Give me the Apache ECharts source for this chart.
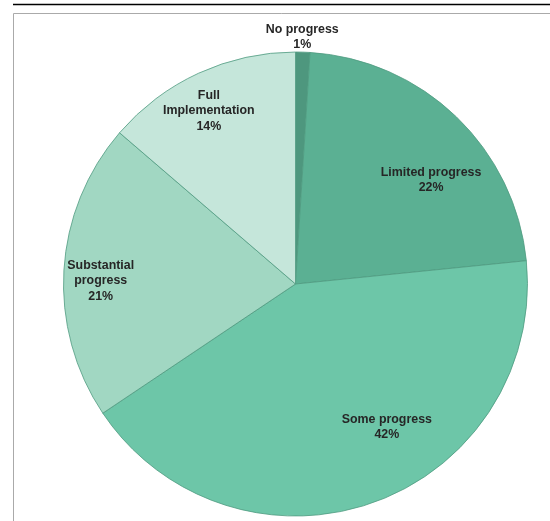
<!DOCTYPE html>
<html>
<head>
<meta charset="utf-8">
<script src="https://cdn.jsdelivr.net/npm/echarts@6/dist/echarts.min.js"></script>
<style>
html,body{margin:0;padding:0;background:#fff;}
#chart{width:550px;height:521px;}
</style>
</head>
<body>
<div id="chart"></div>
<script>
// Data
const categories = ['No progress', 'Limited progress', 'Some progress', 'Substantial progress', 'Full Implementation'];
const displayNames = ['No progress', 'Limited progress', 'Some progress', 'Substantial\nprogress', 'Full\nImplementation'];
const values = [1, 22.4, 42.2, 20.7, 13.7];
const colors = ['#4e977e', '#5bb093', '#6dc6a8', '#a1d7c2', '#c5e6da'];
const labelOffsets = [[3, -128], [53, -18], [51, 31], [-76, 4], [-37, -65]];

const chart = echarts.init(document.getElementById('chart'), null, {renderer: 'canvas'});
chart.setOption({
  animation: false,
  backgroundColor: '#fff',
  graphic: [
    {type: 'line', shape: {x1: 13, y1: 4.5, x2: 550, y2: 4.5}, style: {stroke: '#000', lineWidth: 1.3}},
    {type: 'line', shape: {x1: 13.5, y1: 13.5, x2: 550, y2: 13.5}, style: {stroke: '#aaa', lineWidth: 1}},
    {type: 'line', shape: {x1: 13.5, y1: 13.5, x2: 13.5, y2: 521}, style: {stroke: '#aaa', lineWidth: 1}}
  ],
  series: [{
    type: 'pie',
    center: [295.5, 284],
    radius: [0, 232],
    startAngle: 90,
    clockwise: true,
    avoidLabelOverlap: false,
    itemStyle: {borderColor: '#4f9a80', borderWidth: 0.8},
    emphasis: {disabled: true},
    labelLine: {show: false},
    label: {
      show: true,
      position: 'inside',
      fontFamily: 'Liberation Sans, Arial, sans-serif',
      fontWeight: 'bold',
      fontSize: 12.4,
      lineHeight: 15.5,
      color: '#262626',
      align: 'center',
      formatter: p => displayNames[p.dataIndex] + '\n' + Math.round(p.value) + '%'
    },
    data: categories.map((c, i) => ({
      name: c,
      value: values[i],
      itemStyle: {color: colors[i]},
      label: {offset: labelOffsets[i]}
    }))
  }]
});
</script>
</body>
</html>
